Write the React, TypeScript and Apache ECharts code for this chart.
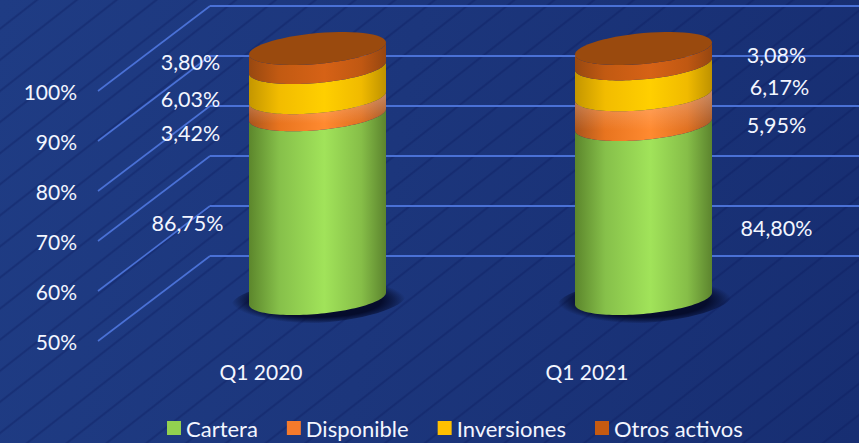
import React, { useEffect, useRef } from "react";
import * as echarts from "echarts";

const categories = ["Q1 2020", "Q1 2021"];
const seriesNames = ["Cartera", "Disponible", "Inversiones", "Otros activos"];
const cartera = [86.75, 84.8];
const disponible = [3.42, 5.95];
const inversiones = [6.03, 6.17];
const otrosActivos = [3.8, 3.08];
const axisTicks = [50, 60, 70, 80, 90, 100];

const FONT = "Lato, Carlito, Calibri, sans-serif";
const TEXT = "#F3F6FF";
const WALL = "#4A71D6";
const DEPTH_X = 112;
const DEPTH_Y = 85;
const RX = 68.5;
const RY = 15.4;
const TILT = 6;
const AXIS_MIN = 50;

// label offsets from the centre of each band, per series, per category
const labelOffsets = [
  [[-130, 16.7], [133, 16.2]],
  [[-127, 27.2], [133, 15.6]],
  [[-127, 16.8], [136, 8]],
  [[-127, 4.4], [133, -0.8]],
];

const bandStops = [
  ["#5C862C", "#86C04A", "#A1E35A", "#86BE48", "#5C842E"],
  ["#A9541C", "#E8741F", "#FF8A30", "#E07020", "#A4521C"],
  ["#C49600", "#F2BC00", "#FFCF00", "#F0BA00", "#BE9200"],
  ["#984810", "#C25A12", "#D66216", "#C05812", "#964610"],
];
const legendColors = ["#92D050", "#F57A2C", "#FFC000", "#C55A11"];

const gradient = (stops: string[]) =>
  new echarts.graphic.LinearGradient(0, 0, 1, 0, [
    { offset: 0, color: stops[0] },
    { offset: 0.22, color: stops[1] },
    { offset: 0.55, color: stops[2] },
    { offset: 0.82, color: stops[3] },
    { offset: 1, color: stops[4] },
  ]);

const rimPoint = (cx: number, cy: number, t: number, rx = RX, ry = RY): number[] => [
  cx + rx * Math.cos(t),
  cy + ry * Math.sin(t) - TILT * Math.cos(t),
];

const STEPS = 60;
const ringPoints = (cx: number, cy: number, rx = RX, ry = RY) => {
  const pts: number[][] = [];
  for (let i = 0; i < STEPS; i++) pts.push(rimPoint(cx, cy, (i / STEPS) * Math.PI * 2, rx, ry));
  return pts;
};
const bandPoints = (cx: number, yLow: number, yHigh: number) => {
  const pts: number[][] = [];
  for (let i = 0; i <= STEPS; i++) pts.push(rimPoint(cx, yHigh, (i / STEPS) * Math.PI));
  for (let i = STEPS; i >= 0; i--) pts.push(rimPoint(cx, yLow, (i / STEPS) * Math.PI));
  return pts;
};

const stacked = [cartera, disponible, inversiones, otrosActivos];

const bandSeries = (si: number) => ({
  type: "custom",
  name: seriesNames[si],
  xAxisIndex: 1,
  yAxisIndex: 1,
  z: 3 + si,
  silent: true,
  clip: false,
  itemStyle: { color: legendColors[si] },
  encode: { x: 0, y: [1, 2] },
  data: categories.map((_, ci) => {
    let start = 0;
    for (let k = 0; k < si; k++) start += stacked[k][ci];
    return [ci, Math.max(start, AXIS_MIN), start + stacked[si][ci], stacked[si][ci]];
  }),
  renderItem: (_p: any, api: any) => {
    const ci = api.value(0);
    const low = api.coord([ci, api.value(1)]);
    const high = api.coord([ci, api.value(2)]);
    const cx = low[0];
    const children: any[] = [];
    if (si === 0) {
      children.push({
        type: "polygon",
        shape: { points: ringPoints(cx + 1, low[1] + 2, RX + 19, RY + 7) },
        style: {
          fill: new echarts.graphic.RadialGradient(0.5, 0.5, 0.5, [
            { offset: 0, color: "rgba(5,12,44,1)" },
            { offset: 0.72, color: "rgba(5,12,44,1)" },
            { offset: 0.86, color: "rgba(5,12,44,0.55)" },
            { offset: 1, color: "rgba(5,12,44,0)" },
          ]),
        },
      });
    }
    const pts = bandPoints(cx, low[1], high[1]);
    children.push({ type: "polygon", shape: { points: pts }, style: { fill: gradient(bandStops[si]) } });
    if (si === 1) {
      children.push({
        type: "polygon",
        shape: { points: pts },
        style: {
          fill: new echarts.graphic.LinearGradient(0, 0, 0, 1, [
            { offset: 0, color: "rgba(255,225,215,0.4)" },
            { offset: 0.55, color: "rgba(255,225,215,0.12)" },
            { offset: 0.8, color: "rgba(255,225,215,0)" },
            { offset: 1, color: "rgba(255,225,215,0)" },
          ]),
        },
      });
    }
    if (si === 3) {
      children.push({ type: "polygon", shape: { points: ringPoints(cx, high[1]) }, style: { fill: "#9A4A0E" } });
    }
    const off = labelOffsets[si][ci];
    const mid = api.coord([ci, (api.value(1) + api.value(2)) / 2]);
    children.push({
      type: "text",
      z2: 50,
      style: {
        text: api.value(3).toFixed(2).replace(".", ",") + "%",
        x: cx + off[0],
        y: mid[1] + off[1],
        fill: TEXT,
        fontSize: 21.5,
        fontFamily: FONT,
        textAlign: "center",
        textVerticalAlign: "middle",
      },
    });
    return { type: "group", children };
  },
});

const option: any = {
  animation: false,
  backgroundColor: "transparent",
  grid: [
    { left: 98, top: 91, width: 652, height: 250 },
    { left: 154.5, top: 48.5, width: 652, height: 250 },
    { left: 210, top: 6, width: 652, height: 250 },
  ],
  xAxis: [
    {
      gridIndex: 0,
      type: "category",
      data: categories,
      axisLine: { show: false },
      axisTick: { show: false },
      axisLabel: { color: TEXT, fontSize: 21, fontFamily: FONT, margin: 20 },
    },
    { gridIndex: 1, type: "category", data: categories, show: false },
    { gridIndex: 2, type: "category", data: categories, show: false },
  ],
  yAxis: [
    {
      gridIndex: 0,
      type: "value",
      min: 50,
      max: 100,
      interval: 10,
      axisLine: { show: false },
      axisTick: { show: false },
      splitLine: { show: false },
      axisLabel: {
        color: TEXT,
        fontSize: 21,
        fontFamily: FONT,
        margin: 21,
        padding: [0, 0, 2, 0],
        formatter: "{value}%",
      },
    },
    { gridIndex: 1, type: "value", min: 50, max: 100, interval: 10, show: false },
    {
      gridIndex: 2,
      type: "value",
      min: 50,
      max: 100,
      interval: 10,
      axisLabel: { show: false },
      axisLine: { show: false },
      axisTick: { show: false },
      splitLine: { show: true, lineStyle: { color: WALL, width: 2 } },
    },
  ],
  legend: {
    data: seriesNames,
    left: 162,
    top: 412,
    icon: "rect",
    itemWidth: 14,
    itemHeight: 14,
    itemGap: 29,
    selectedMode: false,
    textStyle: { color: TEXT, fontSize: 22, fontFamily: FONT },
  },
  series: [
    {
      type: "custom",
      name: "walls",
      xAxisIndex: 0,
      yAxisIndex: 0,
      z: 1,
      silent: true,
      clip: false,
      encode: { x: 0, y: 1 },
      data: axisTicks.map((t) => [0, t]),
      renderItem: (p: any, api: any) => {
        const y = api.coord([0, api.value(1)])[1];
        const x = p.coordSys.x;
        return {
          type: "line",
          shape: { x1: x, y1: y, x2: x + DEPTH_X, y2: y - DEPTH_Y },
          style: { stroke: WALL, lineWidth: 1.6 },
        };
      },
    },
    ...seriesNames.map((_, si) => bandSeries(si)),
  ],
};

const BACKGROUND = [
  "repeating-linear-gradient(142deg, rgba(10,24,90,0) 0px, rgba(10,24,90,0) 21px, rgba(10,24,90,0.32) 22.5px, rgba(10,24,90,0.32) 23px, rgba(10,24,90,0) 24.5px)",
  "linear-gradient(100deg, #1F3C84 0%, #1C367C 45%, #172E72 100%)",
].join(",");

export default function App() {
  const ref = useRef<HTMLDivElement>(null);
  useEffect(() => {
    document.body.style.margin = "0";
    const chart = echarts.init(ref.current!, undefined, { renderer: "svg" });
    chart.setOption(option);
    return () => chart.dispose();
  }, []);
  return <div ref={ref} style={{ width: 859, height: 443, background: BACKGROUND, overflow: "hidden" }} />;
}
